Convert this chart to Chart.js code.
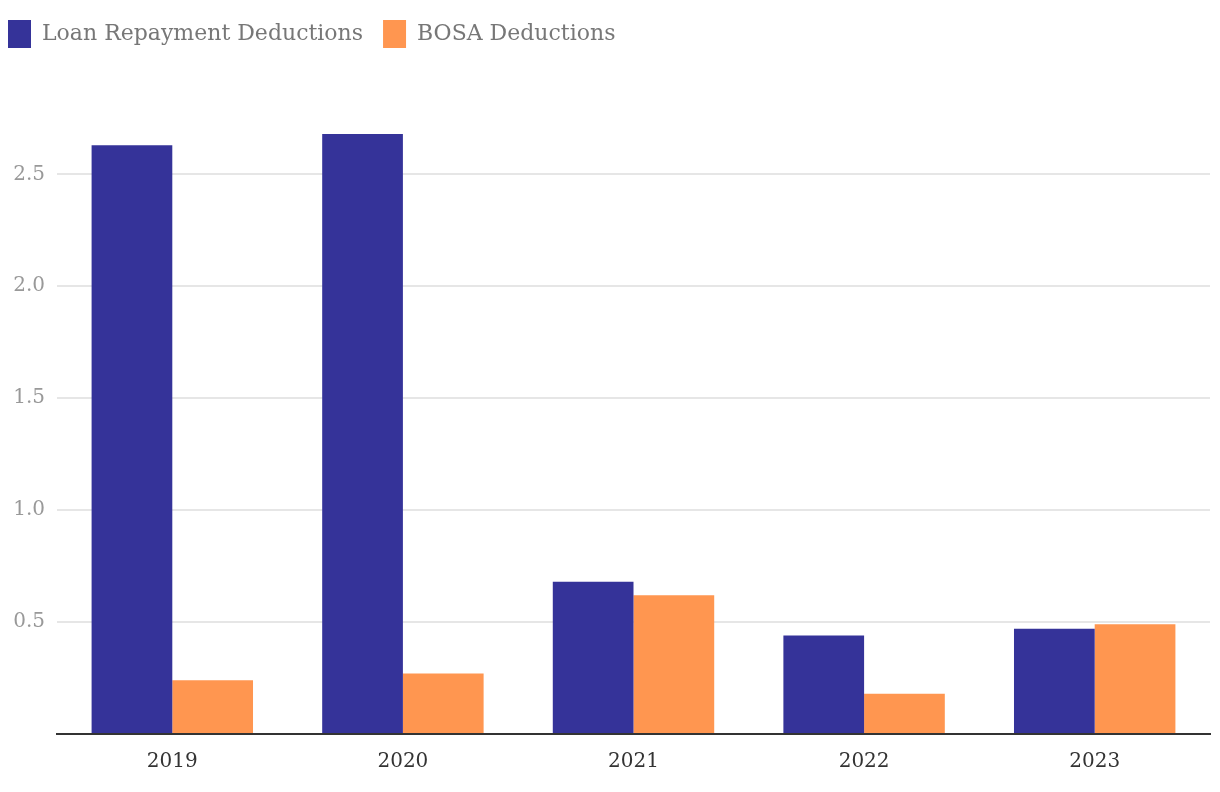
<!DOCTYPE html>
<html>
<head>
<meta charset="utf-8">
<script src="https://cdn.jsdelivr.net/npm/chart.js@4"></script>
<style>
  html, body { margin: 0; padding: 0; background: #fff; }
  #wrap { width: 1220px; height: 792px; }
</style>
</head>
<body>
<div id="wrap"><canvas id="deductionsChart"></canvas></div>
<script>
// values
const years = ["2019", "2020", "2021", "2022", "2023"];
const loanRepayment = [2.63, 2.68, 0.68, 0.44, 0.47];
const bosaDeductions = [0.24, 0.27, 0.62, 0.18, 0.49];

const serif = "'DejaVu Serif', 'Liberation Serif', serif";

// push the plot area down below the legend
const legendSpace = {
    id: "legendSpace",
    beforeInit(chart) {
        const fit = chart.legend.fit;
        chart.legend.fit = function () {
            fit.bind(chart.legend)();
            this.height = 96;
        };
    }
};

const ctx = document.getElementById("deductionsChart").getContext("2d");
new Chart(ctx, {
    type: "bar",
    data: {
        labels: years,
        datasets: [
            {
                label: "Loan Repayment Deductions",
                data: loanRepayment,
                backgroundColor: "#353399",
                borderWidth: 0
            },
            {
                label: "BOSA Deductions",
                data: bosaDeductions,
                backgroundColor: "#ff9650",
                borderWidth: 0
            }
        ]
    },
    options: {
        responsive: true,
        maintainAspectRatio: false,
        animation: false,
        layout: { padding: { left: -12, right: 10, top: 0, bottom: 0 } },
        datasets: {
            bar: { categoryPercentage: 0.7, barPercentage: 1.0 }
        },
        plugins: {
            legend: {
                position: "top",
                align: "start",
                labels: {
                    boxWidth: 23,
                    boxHeight: 28,
                    padding: 20,
                    color: "#777",
                    font: { family: serif, size: 22 }
                }
            },
            tooltip: { enabled: false }
        },
        scales: {
            x: {
                grid: { display: false, drawTicks: false },
                border: { color: "#333", width: 2 },
                ticks: {
                    color: "#333",
                    padding: 16,
                    font: { family: serif, size: 20 }
                },
                afterFit(scale) { scale.height = 58; }
            },
            y: {
                min: 0,
                max: 2.85,
                grid: { color: "#e6e6e6", lineWidth: 2, drawTicks: false },
                border: { display: false },
                ticks: {
                    stepSize: 0.5,
                    color: "#999",
                    padding: 12,
                    font: { family: serif, size: 20 },
                    callback: function (v) { return v === 0 ? "" : v.toFixed(1); }
                },
                // keep only the 0.5 steps, not the max value
                afterBuildTicks(scale) {
                    scale.ticks = scale.ticks.filter(t => Math.abs(t.value * 2 - Math.round(t.value * 2)) < 1e-6);
                },
                afterFit(scale) { scale.width = 69; }
            }
        }
    },
    plugins: [legendSpace]
});
</script>
</body>
</html>
